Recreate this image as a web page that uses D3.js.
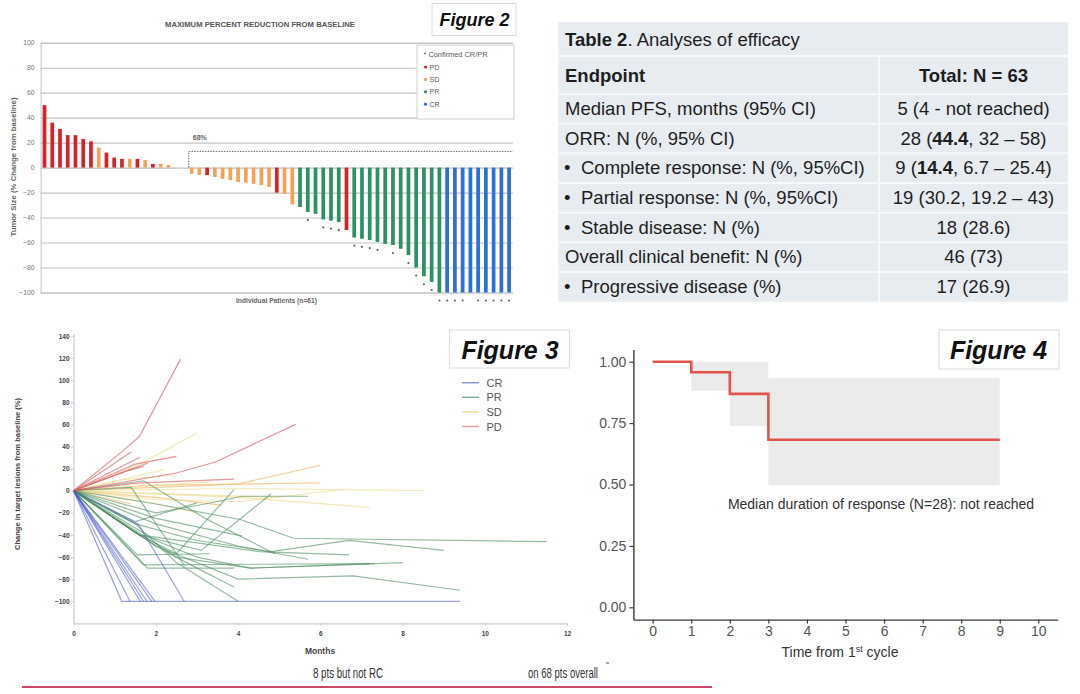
<!DOCTYPE html>
<html><head><meta charset="utf-8">
<script src="https://cdn.jsdelivr.net/npm/d3@7"></script>
<style>
body{margin:0;background:#fff;}
svg{display:block;font-family:"Liberation Sans",Arial,Helvetica,sans-serif;}
</style>
</head><body>
<svg id="c" width="1080" height="694"></svg>
<script>
// ================= DATA =================
// Figure 2 : waterfall
const fig2Title = "MAXIMUM PERCENT REDUCTION FROM BASELINE";
const fig2YTicks = [100,80,60,40,20,0,-20,-40,-60,-80,-100];
const fig2Values = [50,36,31,26,26,23,21,16,12,8,7,7,7,6,3,3,2,0,0,
  -5,-6,-6,-7.5,-9,-10,-11.5,-12,-13,-14,-15.5,-20,-21,-29.5,
  -31.5,-35.5,-37,-41.5,-42.5,-43.5,-50,
  -56,-57,-58,-59.5,-61,-62,-65,-70,-80,-87,-91.5,-100,
  -100,-100,-100,-100,-100,-100,-100,-100,-100];
const fig2Response = ["PD","PD","PD","PD","PD","PD","PD","SD","PD","PD","PD","SD","PD","SD","PD","SD","SD","SD","SD",
  "SD","SD","PD","SD","SD","SD","SD","SD","SD","SD","SD","PD","SD","SD",
  "PR","PR","PR","PR","PR","PR","PD",
  "PR","PR","PR","PR","PR","PR","PR","PR","PR","PR","PR","PR",
  "CR","CR","CR","CR","CR","CR","CR","CR","CR"];
const fig2Confirmed = [0,0,0,0,0,0,0,0,0,0,0,0,0,0,0,0,0,0,0,
  0,0,0,0,0,0,0,0,0,0,0,0,0,0,
  0,1,0,1,1,1,0,
  1,1,1,1,0,1,0,1,1,1,1,1,
  1,1,1,0,1,1,1,1,1];
const fig2LegendLabels = ["PD","SD","PR","CR"];
const fig2Threshold = 13;
const fig2ThresholdLabel = "68%";

// Table 2
const tableTitleBold = "Table 2";
const tableTitleRest = ". Analyses of efficacy";
const tableHeader = ["Endpoint","Total: N = 63"];
const tableEndpoints = ["Median PFS, months (95% CI)","ORR: N (%, 95% CI)","Complete response: N (%, 95%CI)",
  "Partial response: N (%, 95%CI)","Stable disease: N (%)","Overall clinical benefit: N (%)","Progressive disease (%)"];
const tableBullets = [0,0,1,1,1,0,1];
const tableTotals = ["5 (4 - not reached)","28 (**44.4**, 32 – 58)","9 (**14.4**, 6.7 – 25.4)",
  "19 (30.2, 19.2 – 43)","18 (28.6)","46 (73)","17 (26.9)"];

// Figure 3 : spider plot (month, % change)
const fig3YTicks = [140,120,100,80,60,40,20,0,-20,-40,-60,-80,-100];
const fig3XTicks = [0,2,4,6,8,10,12];
const fig3Legend = ["CR","PR","SD","PD"];
const crLines = [
  [[0,0],[1.17,-100],[9.4,-100]],
  [[0,0],[1.37,-100]],
  [[0,0],[1.62,-100]],
  [[0,0],[1.7,-100]],
  [[0,0],[1.78,-100]],
  [[0,0],[1.9,-100]],
  [[0,0],[1.98,-100]],
  [[0,0],[1.57,-30],[2.69,-100]]
];
const prLines = [
  [[0,0],[2,-12],[4.05,-26],[5.35,-43],[11.5,-46]],
  [[0,0],[1.5,-30],[3,-45],[4.8,-55],[6.7,-45],[9,-54]],
  [[0,0],[2,-30],[4,-50],[5.7,-62]],
  [[0,0],[1.6,-40],[4.5,-55],[6.7,-58]],
  [[0,0],[2,-45],[3,-60],[4.3,-70],[8,-65]],
  [[0,0],[2,-50],[4,-80],[6.8,-77],[9.4,-90]],
  [[0,0],[2.5,-60],[4.3,-70],[7.3,-66]],
  [[0,0],[1.5,-30],[2.5,-65],[4,-100]],
  [[0,0],[1.5,-38],[2.5,-57],[3.9,1]],
  [[0,0],[1.6,-40],[3.1,-54],[4.8,-3]],
  [[0,0],[2,-20],[3.2,-12],[4.1,-5],[5.7,-5]],
  [[0,0],[1.4,3],[2.7,-68]],
  [[0,0],[1.7,9],[3.2,-25],[4.9,-57]],
  [[0,0],[1.5,-28],[3,-11]],
  [[0,0],[2,-25],[4.1,-41]],
  [[0,0],[1.55,-58],[3.3,-57]],
  [[0,0],[1.7,-67],[7.2,-66]],
  [[0,0],[1.8,-70],[3.9,-70]],
  [[0,0],[2,-50],[3,-70],[3.9,-87]]
];
const sdLines = [
  [[0,0],[1.5,22],[3,52]],
  [[0,0],[4,6],[6,23]],
  [[0,0],[2,-8],[4,-10],[6.6,1.5]],
  [[0,0],[4,-6],[7.2,-15]],
  [[0,0],[2,5],[6,7]],
  [[0,0],[2.2,19]],
  [[0,0],[1.5,4],[3.3,8]],
  [[0,0],[2,-6],[3.6,-13]],
  [[0,0],[1.8,-10],[3,-20]],
  [[0,0],[2.5,-3],[5,-6]],
  [[0,0],[1.4,-12]],
  [[0,0],[4,2],[8.5,0]],
  [[0,0],[1.2,10],[2.4,14]]
];
const pdLines = [
  [[0,0],[1.2,36],[1.6,49],[2.6,119]],
  [[0,0],[2.5,16],[3.45,26],[5.4,60]],
  [[0,0],[1.6,7],[3.9,10.5]],
  [[0,0],[1.4,35]],
  [[0,0],[1.6,30]],
  [[0,0],[1.5,24],[2.5,31]],
  [[0,0],[1.8,25]],
  [[0,0],[1.3,18],[1.7,22]]
];

// Figure 4 : Kaplan-Meier duration of response
const kmTime = [0,1,2,3,9];
const kmSurv = [1.00,0.957,0.869,0.682,0.682];
const ciTime = [1,2,3,9];
const ciLower = [0.882,0.738,0.497,0.497];
const ciUpper = [1.0,1.0,0.935,0.935];
const fig4YTicks = [0,0.25,0.5,0.75,1.0];
const fig4XTicks = [0,1,2,3,4,5,6,7,8,9,10];
const fig4Note = "Median duration of response (N=28): not reached";

const footNotes = ["8 pts but not RC","on 68 pts overall"];

// ================= DRAW =================
const svg = d3.select("#c");
const respColor = {PD:"#d7222a",SD:"#f1a35c",PR:"#2f9163",CR:"#2e6fd8"};

// ---------- Figure 2 ----------
const g2 = svg.append("g");
const x2 = d3.scaleBand().domain(d3.range(fig2Values.length)).range([40.6,513]).paddingInner(0.52).paddingOuter(0.265);
const y2 = d3.scaleLinear().domain([-100,100]).range([292.5,42.7]);

const ax2 = g2.append("g").attr("transform","translate(40.6,0)")
  .call(d3.axisLeft(y2).tickValues(fig2YTicks).tickSize(-(513-40.6)).tickPadding(6));
ax2.select(".domain").attr("stroke","#c4c4c4");
ax2.selectAll(".tick line").attr("stroke","#c2c2c2").attr("stroke-width",1.1);
ax2.selectAll(".tick text").attr("font-size",6.8).attr("fill","#777").attr("font-family","Liberation Sans, Arial");

g2.selectAll("rect.bar").data(fig2Values).join("rect").attr("class","bar")
  .attr("x",(d,i)=>x2(i)).attr("width",x2.bandwidth())
  .attr("y",d=>Math.min(y2(d),y2(0))).attr("height",d=>Math.abs(y2(d)-y2(0)))
  .attr("fill",(d,i)=>respColor[fig2Response[i]]);

g2.selectAll("circle.star").data(fig2Values.map((v,i)=>({v,i})).filter(d=>fig2Confirmed[d.i]))
  .join("circle").attr("class","star")
  .attr("cx",d=>x2(d.i)+x2.bandwidth()/2).attr("cy",d=>y2(d.v)+8).attr("r",1.1).attr("fill","#666");

// threshold bracket
const thrX = x2(19)-1;
g2.append("path").attr("d",`M${thrX},${y2(0)}V${y2(fig2Threshold)}H513`)
  .attr("fill","none").attr("stroke","#666").attr("stroke-width",1).attr("stroke-dasharray","1.5,1.2");
g2.append("text").attr("x",thrX+4).attr("y",y2(fig2Threshold)-11).attr("font-size",7).attr("font-weight","bold")
  .attr("fill","#666").text(fig2ThresholdLabel);

g2.append("text").attr("x",260).attr("y",27).attr("text-anchor","middle").attr("font-size",7.5)
  .attr("font-weight","bold").attr("fill","#555").attr("textLength",190).attr("lengthAdjust","spacingAndGlyphs").text(fig2Title);
g2.append("text").attr("transform","translate(15.5,167) rotate(-90)").attr("text-anchor","middle").attr("font-size",7)
  .attr("font-weight","bold").attr("fill","#666").attr("textLength",139).attr("lengthAdjust","spacingAndGlyphs")
  .text("Tumor Size (% Change from baseline)");
g2.append("text").attr("x",276.5).attr("y",302.5).attr("text-anchor","middle").attr("font-size",7)
  .attr("font-weight","bold").attr("fill","#666").attr("textLength",81).attr("lengthAdjust","spacingAndGlyphs")
  .text("Individual Patients (n=61)");

// legend
const lg2 = g2.append("g");
lg2.append("rect").attr("x",417).attr("y",45).attr("width",97).attr("height",74).attr("fill","#fff")
  .attr("stroke","#cfcfcf").attr("stroke-width",1);
lg2.append("text").attr("x",423.5).attr("y",56.5).attr("font-size",7).attr("fill","#555")
  .attr("textLength",64).attr("lengthAdjust","spacingAndGlyphs").text("* Confirmed CR/PR");
fig2LegendLabels.forEach((k,i)=>{
  const yy = 67+i*12.4;
  lg2.append("circle").attr("cx",425.5).attr("cy",yy).attr("r",1.6).attr("fill",respColor[k]);
  lg2.append("text").attr("x",429.5).attr("y",yy+2.5).attr("font-size",7).attr("fill","#555").text(k);
});
// Figure 2 label box
svg.append("rect").attr("x",432).attr("y",3.5).attr("width",84).attr("height",32).attr("fill","#fff")
  .attr("stroke","#dcdcdc");
svg.append("text").attr("x",474.5).attr("y",25.5).attr("text-anchor","middle").attr("font-size",18)
  .attr("font-weight","bold").attr("font-style","italic").attr("fill","#111").text("Figure 2");

// ---------- Table 2 ----------
const gt = svg.append("g");
const tL = 558.3, tR = 1068, tDiv = 879, tTop = 22;
const rowEdges = [22,56,94];
for (let i=1;i<=tableEndpoints.length;i++) rowEdges.push(94 + i*(301.7-94)/tableEndpoints.length);
gt.append("rect").attr("x",tL).attr("y",tTop).attr("width",tR-tL).attr("height",301.7-tTop).attr("fill","#e7ecf1");
gt.selectAll("line.h").data(rowEdges.slice(1,-1)).join("line").attr("x1",tL).attr("x2",tR)
  .attr("y1",d=>d).attr("y2",d=>d).attr("stroke","#f7f8fa").attr("stroke-width",2);
gt.append("line").attr("x1",tDiv).attr("x2",tDiv).attr("y1",56).attr("y2",301.7).attr("stroke","#f7f8fa").attr("stroke-width",2);
const fs = 18.5;
const tt = gt.append("text").attr("x",565).attr("y",(22+56)/2+6.5).attr("font-size",fs).attr("fill","#1e1e1e");
tt.append("tspan").attr("font-weight","bold").text(tableTitleBold);
tt.append("tspan").text(tableTitleRest);
gt.append("text").attr("x",565).attr("y",(56+94)/2+6.5).attr("font-size",fs).attr("font-weight","bold").attr("fill","#1e1e1e").text(tableHeader[0]);
gt.append("text").attr("x",(tDiv+tR)/2).attr("y",(56+94)/2+6.5).attr("text-anchor","middle").attr("font-size",fs).attr("font-weight","bold").attr("fill","#1e1e1e").text(tableHeader[1]);
tableEndpoints.forEach((t,i)=>{
  const cy = (rowEdges[i+2]+rowEdges[i+3])/2 + 6.3;
  if (tableBullets[i]) {
    gt.append("text").attr("x",564).attr("y",cy).attr("font-size",fs).attr("fill","#1e1e1e").text("•");
    gt.append("text").attr("x",581).attr("y",cy).attr("font-size",fs).attr("fill","#1e1e1e").text(t);
  } else {
    gt.append("text").attr("x",565).attr("y",cy).attr("font-size",fs).attr("fill","#1e1e1e").text(t);
  }
  const vt = gt.append("text").attr("x",(tDiv+tR)/2).attr("y",cy).attr("text-anchor","middle").attr("font-size",fs).attr("fill","#1e1e1e");
  tableTotals[i].split("**").forEach((seg,j)=>{
    vt.append("tspan").attr("font-weight", j%2 ? "bold":"normal").text(seg);
  });
});

// ---------- Figure 3 ----------
const g3 = svg.append("g");
const x3 = d3.scaleLinear().domain([0,12]).range([73.6,567.1]);
const y3 = d3.scaleLinear().domain([-120,142]).range([623.4,333.7]);
const ay3 = g3.append("g").attr("transform",`translate(${x3(0)},0)`)
  .call(d3.axisLeft(y3).tickValues(fig3YTicks).tickSize(2.5).tickSizeOuter(0).tickPadding(1.5));
const ax3 = g3.append("g").attr("transform",`translate(0,${y3(-120)})`)
  .call(d3.axisBottom(x3).tickValues(fig3XTicks).tickSize(2.5).tickSizeOuter(0).tickPadding(5));
[ay3,ax3].forEach(a=>{
  a.select(".domain").attr("stroke","#c9cbd8").attr("stroke-width",1.2);
  a.selectAll(".tick line").attr("stroke","#c9cbd8");
  a.selectAll(".tick text").attr("font-size",6.5).attr("font-weight","bold").attr("fill","#444");
});
const line3 = d3.line().x(d=>x3(d[0])).y(d=>y3(d[1]));
const sdCols = ["#eedf9a","#f2c07a","#efe4a8"];
g3.selectAll("path.sd").data(sdLines).join("path").attr("class","sd").attr("d",line3).attr("fill","none")
  .attr("stroke",(d,i)=>sdCols[i%3]).attr("stroke-width",1.2).attr("stroke-opacity",0.75);
g3.selectAll("path.pr").data(prLines).join("path").attr("class","pr").attr("d",line3).attr("fill","none")
  .attr("stroke","#4f8f63").attr("stroke-width",1.2).attr("stroke-opacity",0.6);
g3.selectAll("path.cr").data(crLines).join("path").attr("class","cr").attr("d",line3).attr("fill","none")
  .attr("stroke","#4656c8").attr("stroke-width",1.2).attr("stroke-opacity",0.55);
g3.selectAll("path.pd").data(pdLines).join("path").attr("class","pd").attr("d",line3).attr("fill","none")
  .attr("stroke","#d45f62").attr("stroke-width",1.2).attr("stroke-opacity",0.65);
// legend
const lcol3 = {CR:"#8a95d6",PR:"#86ad95",SD:"#eee0a0",PD:"#e3a1a8"};
fig3Legend.forEach((k,i)=>{
  const yy = 382.7 + i*14.6;
  g3.append("line").attr("x1",462).attr("x2",479).attr("y1",yy).attr("y2",yy).attr("stroke",lcol3[k]).attr("stroke-width",1.5);
  g3.append("text").attr("x",486.5).attr("y",yy+4).attr("font-size",11).attr("fill","#555").text(k);
});
g3.append("text").attr("x",320).attr("y",654).attr("text-anchor","middle").attr("font-size",8.5).attr("font-weight","bold")
  .attr("fill","#444").text("Months");
g3.append("text").attr("transform","translate(19.5,474) rotate(-90)").attr("text-anchor","middle").attr("font-size",7)
  .attr("font-weight","bold").attr("fill","#444").attr("textLength",152).attr("lengthAdjust","spacingAndGlyphs")
  .text("Change in target lesions from baseline (%)");
svg.append("rect").attr("x",449.5).attr("y",330).attr("width",120).attr("height",38).attr("fill","#fff").attr("stroke","#dcdcdc");
svg.append("text").attr("x",510).attr("y",358.5).attr("text-anchor","middle").attr("font-size",25)
  .attr("font-weight","bold").attr("font-style","italic").attr("fill","#111").text("Figure 3");

// ---------- Figure 4 ----------
const g4 = svg.append("g");
const x4 = d3.scaleLinear().domain([-0.5,10.5]).range([633.4,1057.6]);
const y4 = d3.scaleLinear().domain([-0.05,1.05]).range([619.6,349.4]);
const ci = ciTime.map((t,i)=>({t,lo:ciLower[i],hi:ciUpper[i]}));
g4.append("path").datum(ci).attr("d",d3.area().curve(d3.curveStepAfter).x(d=>x4(d.t)).y0(d=>y4(d.lo)).y1(d=>y4(d.hi)))
  .attr("fill","#ebebec");
g4.append("path").datum(kmTime.map((t,i)=>[t,kmSurv[i]]))
  .attr("d",d3.line().curve(d3.curveStepAfter).x(d=>x4(d[0])).y(d=>y4(d[1])))
  .attr("fill","none").attr("stroke","#e2534b").attr("stroke-width",2.6);
const ay4 = g4.append("g").attr("transform",`translate(${x4(-0.5)},0)`)
  .call(d3.axisLeft(y4).tickValues(fig4YTicks).tickFormat(d3.format(".2f")).tickSize(4).tickSizeOuter(0).tickPadding(3));
const ax4 = g4.append("g").attr("transform",`translate(0,${y4(-0.05)})`)
  .call(d3.axisBottom(x4).tickValues(fig4XTicks).tickSize(4).tickSizeOuter(0).tickPadding(2));
[ay4,ax4].forEach(a=>{
  a.select(".domain").attr("stroke","#3a3a3a").attr("stroke-width",1.4);
  a.selectAll(".tick line").attr("stroke","#3a3a3a").attr("stroke-width",1.2);
  a.selectAll(".tick text").attr("font-size",14).attr("fill","#555").attr("font-family","Liberation Sans, Arial");
});
const xt = g4.append("text").attr("x",840).attr("y",657).attr("text-anchor","middle").attr("font-size",14).attr("fill","#333");
xt.append("tspan").text("Time from 1");
xt.append("tspan").attr("font-size",9).attr("dy",-5).text("st");
xt.append("tspan").attr("dy",5).text(" cycle");
g4.append("text").attr("x",881).attr("y",509).attr("text-anchor","middle").attr("font-size",14).attr("fill","#333").text(fig4Note);
svg.append("rect").attr("x",939).attr("y",330).attr("width",120).attr("height",39).attr("fill","#fff").attr("stroke","#dcdcdc");
svg.append("text").attr("x",998.5).attr("y",358.5).attr("text-anchor","middle").attr("font-size",25)
  .attr("font-weight","bold").attr("font-style","italic").attr("fill","#111").text("Figure 4");

// ---------- footer ----------
svg.append("text").attr("x",313).attr("y",677.5).attr("font-size",15).attr("fill","#333")
  .attr("font-family","Liberation Sans Narrow, Arial Narrow, sans-serif")
  .attr("textLength",70).attr("lengthAdjust","spacingAndGlyphs").text(footNotes[0]);
svg.append("text").attr("x",528).attr("y",677.5).attr("font-size",15).attr("fill","#333")
  .attr("font-family","Liberation Sans Narrow, Arial Narrow, sans-serif")
  .attr("textLength",70).attr("lengthAdjust","spacingAndGlyphs").text(footNotes[1]);
svg.append("line").attr("x1",606).attr("x2",609).attr("y1",663).attr("y2",663).attr("stroke","#555").attr("stroke-width",1);
svg.append("line").attr("x1",22).attr("x2",712).attr("y1",687).attr("y2",687).attr("stroke","#cf4566").attr("stroke-width",2);
</script>
</body></html>
